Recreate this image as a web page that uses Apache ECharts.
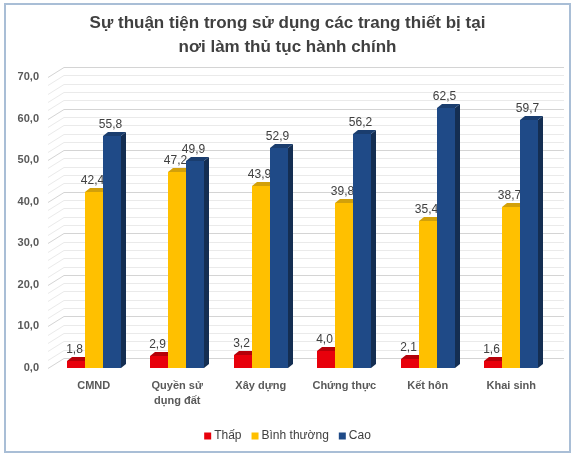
<!DOCTYPE html>
<html>
<head>
<meta charset="utf-8">
<script src="https://cdn.jsdelivr.net/npm/echarts@6/dist/echarts.min.js"></script>
<style>
  html, body { margin: 0; padding: 0; background: #ffffff; }
  #chart { width: 575px; height: 457px; }
</style>
</head>
<body>
<div id="chart"></div>
<script>
// Categories and survey shares (%) per convenience level
const categories = ['CMND', 'Quyền sử\ndụng đất', 'Xây dựng', 'Chứng thực', 'Kết hôn', 'Khai sinh'];
const thap = [1.8, 2.9, 3.2, 4.0, 2.1, 1.6];
const binhThuong = [42.4, 47.2, 43.9, 39.8, 35.4, 38.7];
const cao = [55.8, 49.9, 52.9, 56.2, 62.5, 59.7];
const seriesNames = ['Thấp', 'Bình thường', 'Cao'];
// wall grid lines: major every 10, minor every 2
const wallTicks = [0, 2, 4, 6, 8, 10, 12, 14, 16, 18, 20, 22, 24, 26, 28, 30, 32, 34,
  36, 38, 40, 42, 44, 46, 48, 50, 52, 54, 56, 58, 60, 62, 64, 66, 68, 70];

const fmt = v => v.toFixed(1).replace('.', ',');

// colour sets: front, top, side
const palette = [
  { front: '#E8000B', top: '#B40008', side: '#9A0006' },
  { front: '#FFC000', top: '#D2A00A', side: '#C89400' },
  { front: '#1F4A87', top: '#1A3D6E', side: '#142E52' }
];

const DEPTH = [5, -4];

function barRenderer(pos) {
  const c = palette[pos];
  return function (params, api) {
    const cat = api.value(0);
    const v = api.value(1);
    const base = api.coord([cat, 0]);
    const top = api.coord([cat, v]);
    const band = api.size([1, 0])[0];
    const w = Math.round(band * 0.216);
    const x0 = Math.round(base[0] - 1.5 * w + pos * w);
    const yb = Math.round(base[1]);
    const yt = Math.round(top[1]);
    const dx = DEPTH[0], dy = DEPTH[1];
    return {
      type: 'group',
      children: [
        {
          type: 'polygon',
          shape: { points: [[x0 + w, yt], [x0 + w + dx, yt + dy], [x0 + w + dx, yb + dy], [x0 + w, yb]] },
          style: { fill: c.side }
        },
        {
          type: 'polygon',
          shape: { points: [[x0, yt], [x0 + dx, yt + dy], [x0 + w + dx, yt + dy], [x0 + w, yt]] },
          style: { fill: c.top }
        },
        {
          type: 'rect',
          shape: { x: x0, y: yt, width: w, height: yb - yt },
          style: { fill: c.front }
        },
        {
          type: 'text',
          x: x0 + w / 2 - 1.5,
          y: yt - 5,
          style: {
            text: fmt(v),
            fill: '#404040',
            font: '12px "Liberation Sans", Arial, sans-serif',
            align: 'center',
            verticalAlign: 'bottom'
          }
        }
      ]
    };
  };
}

function wallRenderer(params, api) {
  const v = api.value(1);
  const cs = params.coordSys;
  const y = Math.round(api.coord([0, v])[1]) + 0.5;
  const left = cs.x;
  const right = cs.x + cs.width;
  return {
    type: 'polyline',
    shape: { points: [[left - 4, y], [left + 12, y - 10], [right + 11, y - 10]] },
    style: { stroke: v % 10 === 0 ? '#D4D4D4' : '#EAEAEA', lineWidth: 1, fill: null },
    silent: true
  };
}

const chart = echarts.init(document.getElementById('chart'), null, { renderer: 'canvas' });

function barSeries(name, values, pos) {
  return {
    name: name,
    type: 'custom',
    renderItem: barRenderer(pos),
    encode: { x: 0, y: 1 },
    data: values.map((v, i) => [i, v]),
    itemStyle: { color: palette[pos].front },
    z: 3
  };
}

chart.setOption({
  animation: false,
  backgroundColor: '#ffffff',
  title: {
    text: 'Sự thuận tiện trong sử dụng các trang thiết bị tại\nnơi làm thủ tục hành chính',
    left: 'center',
    top: 6,
    textStyle: {
      fontFamily: '"Liberation Sans", Arial, sans-serif',
      fontSize: 17,
      fontWeight: 'bold',
      color: '#404040',
      lineHeight: 24
    }
  },
  legend: {
    data: seriesNames,
    bottom: 10,
    left: 'center',
    icon: 'rect',
    itemWidth: 7,
    itemHeight: 7,
    itemGap: 10,
    textStyle: {
      fontFamily: '"Liberation Sans", Arial, sans-serif',
      fontSize: 12,
      color: '#404040',
      padding: [0, 0, 0, -2]
    }
  },
  grid: { left: 52, right: 22, top: 77, bottom: 89 },
  xAxis: {
    type: 'category',
    data: categories,
    axisLine: { show: false },
    axisTick: { show: false },
    splitLine: { show: false },
    axisLabel: {
      interval: 0,
      margin: 10,
      fontFamily: '"Liberation Sans", Arial, sans-serif',
      fontSize: 11,
      fontWeight: 'bold',
      color: '#595959',
      lineHeight: 15
    }
  },
  yAxis: {
    type: 'value',
    min: 0,
    max: 70,
    interval: 10,
    axisLine: { show: false },
    axisTick: { show: false },
    splitLine: { show: false },
    axisLabel: {
      margin: 13,
      fontFamily: '"Liberation Sans", Arial, sans-serif',
      fontSize: 11,
      fontWeight: 'bold',
      color: '#595959',
      padding: [6, 0, 0, 0],
      formatter: v => fmt(v)
    }
  },
  graphic: [{
    type: 'rect',
    shape: { x: 5, y: 4, width: 565, height: 448 },
    style: { fill: null, stroke: '#A9BED6', lineWidth: 2 },
    silent: true,
    z: 10
  }],
  series: [
    {
      name: 'wall',
      type: 'custom',
      renderItem: wallRenderer,
      data: wallTicks.map(v => [0, v]),
      encode: { x: 0, y: 1 },
      silent: true,
      z: 1
    },
    barSeries(seriesNames[0], thap, 0),
    barSeries(seriesNames[1], binhThuong, 1),
    barSeries(seriesNames[2], cao, 2)
  ]
});
</script>
</body>
</html>
